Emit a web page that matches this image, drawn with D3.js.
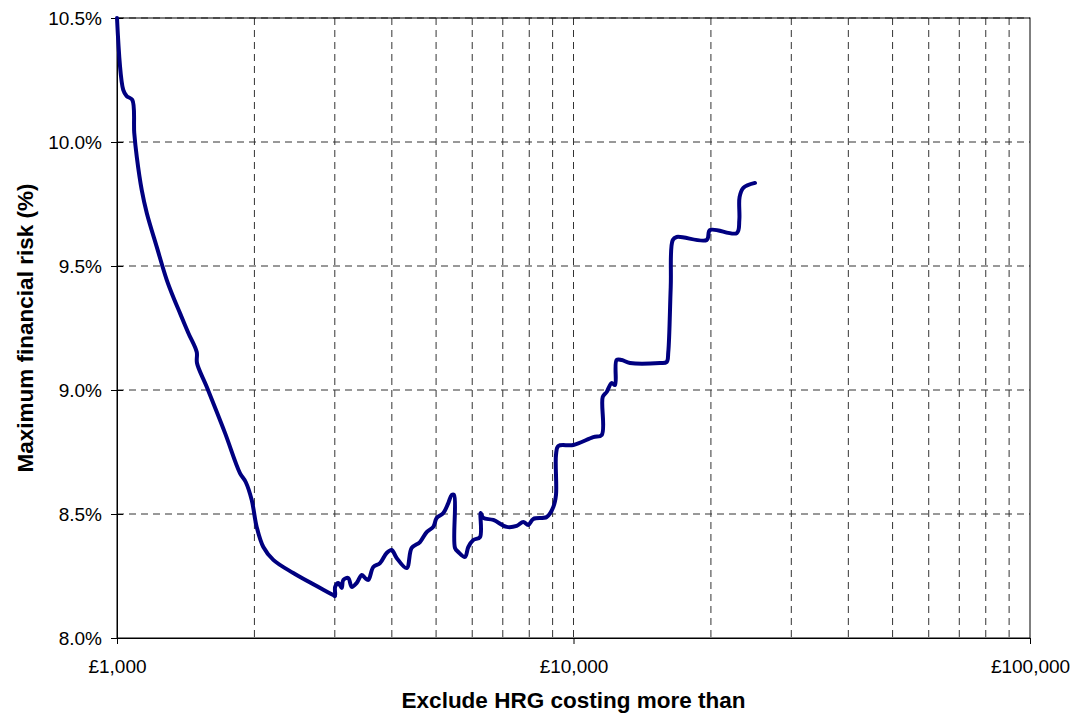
<!DOCTYPE html>
<html>
<head>
<meta charset="utf-8">
<script src="https://cdn.jsdelivr.net/npm/d3@7"></script>
<style>
  body { margin: 0; background: #fff; }
  svg { font-family: "Liberation Sans", Arial, sans-serif; }
</style>
</head>
<body>
<div id="chart"></div>
<script>
// Threshold (£) and max financial risk (%)
const thresholds = [
  1000, 1032, 1050, 1080, 1091, 1105, 1133, 1162, 1222, 1285,
  1328, 1374, 1433, 1495, 1497, 1573, 1724, 1859, 1914, 1973,
  2023, 2092, 2200, 2433, 2978, 3003, 3005, 3053, 3106, 3131,
  3211, 3267, 3351, 3436, 3494, 3552, 3643, 3769, 3897, 3996,
  4098, 4311, 4421, 4610, 4768, 4930, 5015, 5186, 5318, 5411,
  5474, 5501, 5593, 5785, 5883, 6033, 6240, 6262, 6345, 6674,
  7141, 7508, 7762, 7962, 8166, 8737, 9032, 9155, 9155, 9262,
  9991, 11050, 11530, 11590, 11820, 12120, 12330, 12430, 12750, 13300,
  15470, 16000, 16130, 16330, 16500, 16830, 19580, 19910, 22790, 23080,
  23110, 23550, 24980
];
const risk = [
  10.5, 10.21, 10.185, 10.17, 10.036, 9.94, 9.806, 9.714, 9.577, 9.444,
  9.375, 9.31, 9.23, 9.153, 9.109, 9.012, 8.827, 8.665, 8.629, 8.556,
  8.448, 8.367, 8.315, 8.262, 8.173, 8.169, 8.206, 8.222, 8.202, 8.234,
  8.242, 8.206, 8.222, 8.254, 8.242, 8.234, 8.286, 8.302, 8.343, 8.355,
  8.323, 8.282, 8.363, 8.387, 8.427, 8.448, 8.484, 8.504, 8.544, 8.577,
  8.577, 8.363, 8.347, 8.327, 8.367, 8.395, 8.407, 8.504, 8.484, 8.476,
  8.448, 8.452, 8.468, 8.456, 8.48, 8.488, 8.528, 8.577, 8.738, 8.774,
  8.778, 8.81, 8.819, 8.972, 8.992, 9.028, 9.02, 9.121, 9.121, 9.109,
  9.109, 9.113, 9.153, 9.415, 9.605, 9.617, 9.605, 9.645, 9.633, 9.685,
  9.778, 9.815, 9.835
];
const xMajorTicks = [1000, 10000, 100000];
const xGridTicks = [2000, 3000, 4000, 5000, 6000, 7000, 8000, 9000, 10000,
  20000, 30000, 40000, 50000, 60000, 70000, 80000, 90000];
const yTicks = [8.0, 8.5, 9.0, 9.5, 10.0, 10.5];

const data = thresholds.map((t, i) => ({ x: t, y: risk[i] }));

const width = 1075, height = 717;
const margin = { top: 18, right: 45, bottom: 79, left: 117 };
const w = width - margin.left - margin.right;
const h = height - margin.top - margin.bottom;

const svg = d3.select("#chart").append("svg")
  .attr("width", width)
  .attr("height", height);

const g = svg.append("g")
  .attr("transform", `translate(${margin.left},${margin.top})`);

const x = d3.scaleLog().domain([1000, 100000]).range([0, w]);
const y = d3.scaleLinear().domain([8, 10.5]).range([h, 0]);

// grid
g.append("g").selectAll("line")
  .data(yTicks.slice(1))
  .join("line")
  .attr("x1", 0).attr("x2", w)
  .attr("y1", d => y(d)).attr("y2", d => y(d))
  .attr("stroke", "#333").attr("stroke-dasharray", "7,5");

g.append("g").selectAll("line")
  .data(xGridTicks)
  .join("line")
  .attr("x1", d => x(d)).attr("x2", d => x(d))
  .attr("y1", 0).attr("y2", h)
  .attr("stroke", "#333").attr("stroke-dasharray", "7,5");

// frame
g.append("rect")
  .attr("width", w).attr("height", h)
  .attr("fill", "none").attr("stroke", "#000");

// axes
const xAxis = g.append("g")
  .attr("transform", `translate(0,${h})`)
  .call(d3.axisBottom(x).tickValues(xMajorTicks)
    .tickFormat(d => "£" + d3.format(",")(d)).tickSize(6));
xAxis.select(".domain").attr("stroke", "#000");
xAxis.selectAll("text")
  .attr("y", 35).attr("dy", 0)
  .attr("font-size", 19).attr("fill", "#000");

const yAxis = g.append("g")
  .call(d3.axisLeft(y).tickValues(yTicks)
    .tickFormat(d => d.toFixed(1) + "%").tickSize(6));
yAxis.selectAll(".tick line").attr("x2", 6).attr("x1", -6);
yAxis.selectAll("text")
  .attr("x", -15)
  .attr("font-size", 19).attr("fill", "#000");

// line
g.append("path")
  .datum(data)
  .attr("fill", "none")
  .attr("stroke", "#000080")
  .attr("stroke-width", 4)
  .attr("stroke-linejoin", "round")
  .attr("stroke-linecap", "round")
  .attr("d", d3.line().curve(d3.curveCatmullRom.alpha(0.5))
    .x(d => x(d.x)).y(d => y(d.y)));

// titles
svg.append("text")
  .attr("x", margin.left + w / 2)
  .attr("y", 708)
  .attr("text-anchor", "middle")
  .attr("font-size", 22.5).attr("font-weight", "bold")
  .text("Exclude HRG costing more than");

svg.append("text")
  .attr("transform", `translate(33,${margin.top + h / 2}) rotate(-90)`)
  .attr("text-anchor", "middle")
  .attr("font-size", 22.5).attr("font-weight", "bold")
  .text("Maximum financial risk (%)");
</script>
</body>
</html>
